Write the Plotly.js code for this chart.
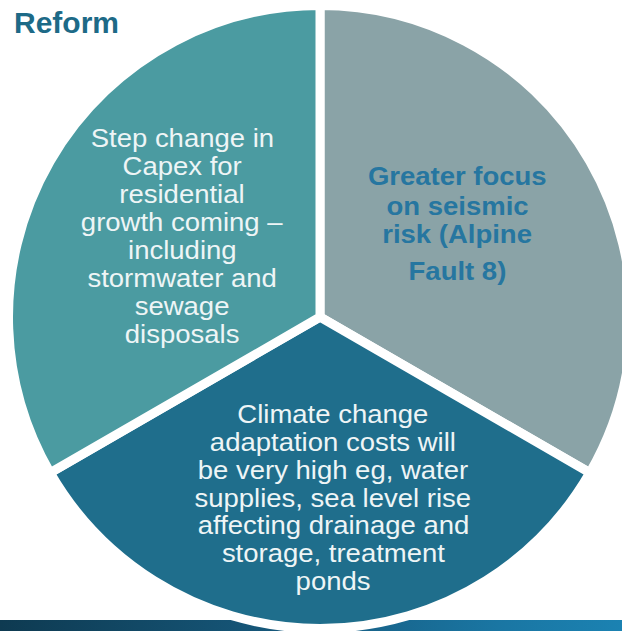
<!DOCTYPE html>
<html>
<head>
<meta charset="utf-8">
<script src="https://cdn.plot.ly/plotly-3.0.1.min.js"></script>
<style>
  html, body { margin: 0; padding: 0; background: #ffffff; overflow: hidden; width: 622px; height: 631px; }
  #wrap { position: relative; width: 622px; height: 631px; overflow: hidden; }
  #bar { position: absolute; left: 0; top: 620px; width: 622px; height: 11px;
         background: linear-gradient(to right, #0e3a51 0%, #16587b 45%, #1a76a3 80%, #1b82b2 100%); }
  #chart { position: absolute; left: 0; top: 0; width: 640px; height: 631px; }
  #chart .annotation-text { transform-box: fill-box; transform-origin: center; transform: scaleX(1.1); }
</style>
</head>
<body>
<div id="wrap">
  <div id="bar"></div>
  <div id="chart"></div>
</div>
<script>
// ---- data ----
var titleText = "Reform";
var sliceLabels = [
  "Greater focus<br>on seismic<br>risk (Alpine<br>Fault 8)",
  "Climate change<br>adaptation costs will<br>be very high eg, water<br>supplies, sea level rise<br>affecting drainage and<br>storage, treatment<br>ponds",
  "Step change in<br>Capex for<br>residential<br>growth coming –<br>including<br>stormwater and<br>sewage<br>disposals"
];
var sliceValues = [1, 1, 1];
var sliceColors = ["#8aa3a7", "#1f6e8c", "#4b9ba1"];

// ---- styles / layout constants ----
var W = 640, H = 631;
var textStyle = [
  {cx: 457, bases: [185, 215, 243, 279.5], color: "#2676a0", bold: true},
  {cx: 333, base: 423, step: 27.8, color: "#eef5f6", bold: false},
  {cx: 182, base: 147, step: 28.0, color: "#eef5f6", bold: false}
];
var fontSize = 25;

var annotations = [];
sliceLabels.forEach(function (lab, i) {
  var st = textStyle[i];
  lab.split("<br>").forEach(function (line, k) {
    var base = st.bases ? st.bases[k] : st.base + k * st.step;
    var cy = base - 0.35 * fontSize;
    annotations.push({
      text: st.bold ? "<b>" + line + "</b>" : line,
      x: st.cx / W, y: 1 - cy / H, xref: "paper", yref: "paper",
      xanchor: "center", yanchor: "middle", showarrow: false,
      font: {family: "Liberation Sans, Arial, sans-serif", size: fontSize, color: st.color}
    });
  });
});

var cx = 320, cy0 = 317, r = 311.5;
var trace = {
  type: "pie",
  labels: ["a", "b", "c"],
  values: sliceValues,
  sort: false,
  direction: "clockwise",
  rotation: 0,
  textinfo: "none",
  hoverinfo: "none",
  marker: {colors: sliceColors, line: {color: "#ffffff", width: 9}},
  domain: {x: [(cx - r) / W, (cx + r) / W], y: [1 - (cy0 + r) / H, 1 - (cy0 - r) / H]},
  showlegend: false
};

var layout = {
  width: W, height: H,
  margin: {l: 0, r: 0, t: 0, b: 0},
  paper_bgcolor: "rgba(0,0,0,0)",
  plot_bgcolor: "rgba(0,0,0,0)",
  showlegend: false,
  title: {
    text: "<b>" + titleText + "</b>",
    x: 14 / W, xanchor: "left", xref: "paper",
    y: 1 - 12 / H, yanchor: "top", yref: "container",
    font: {family: "Liberation Sans, Arial, sans-serif", size: 30, color: "#1d6a87"}
  },
  annotations: annotations
};

Plotly.newPlot("chart", [trace], layout, {displayModeBar: false, staticPlot: true});
</script>
</body>
</html>
